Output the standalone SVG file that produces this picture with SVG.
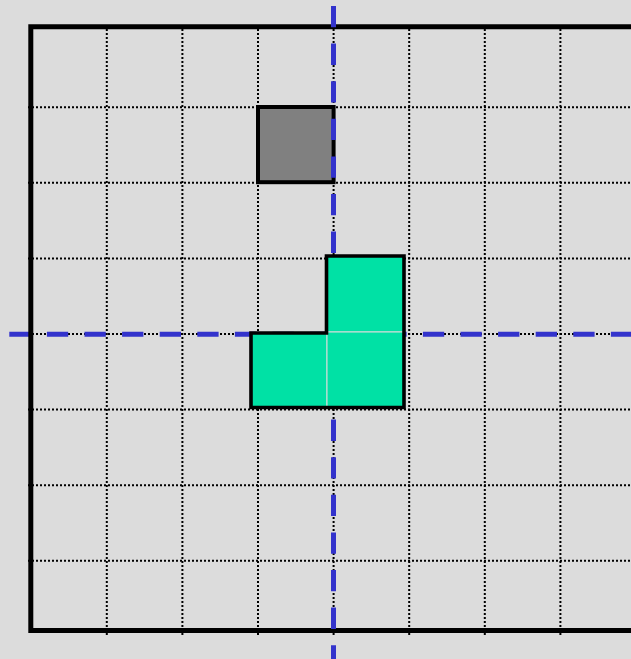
<svg xmlns="http://www.w3.org/2000/svg" width="631" height="659" viewBox="0 0 631 659">
  <style>
    .grid line { stroke: #000; stroke-width: 2; stroke-dasharray: 2 2; }
    .axis { stroke: #3333cc; stroke-width: 5; stroke-dasharray: 21.3 16.3; fill: none; }
    .tile { fill: #00e1a5; stroke: #dcdcdc; stroke-width: 1; }
  </style>
  <rect x="0" y="0" width="631" height="659" fill="#dcdcdc"/>
  <g id="grid" class="grid">
    <line x1="28" y1="107.2" x2="631" y2="107.2"/>
    <line x1="28" y1="182.8" x2="631" y2="182.8"/>
    <line x1="28" y1="258.4" x2="631" y2="258.4"/>
    <line x1="28" y1="334" x2="631" y2="334"/>
    <line x1="28" y1="409.6" x2="631" y2="409.6"/>
    <line x1="28" y1="485.2" x2="631" y2="485.2"/>
    <line x1="28" y1="560.8" x2="631" y2="560.8"/>
    <line x1="106.8" y1="29" x2="106.8" y2="637"/>
    <line x1="182.4" y1="29" x2="182.4" y2="637"/>
    <line x1="258" y1="29" x2="258" y2="637"/>
    <line x1="333.6" y1="29" x2="333.6" y2="637"/>
    <line x1="409.2" y1="29" x2="409.2" y2="637"/>
    <line x1="484.8" y1="29" x2="484.8" y2="637"/>
    <line x1="560.4" y1="29" x2="560.4" y2="637"/>
  </g>
  <g id="connectors">
    <line id="axis-x" class="axis" x1="9.3" y1="334.2" x2="631" y2="334.2"/>
  </g>
  <g id="border">
    <path d="M 633 26.7 L 30.8 26.7 L 30.8 630.5 L 633 630.5" fill="none" stroke="#000" stroke-width="5" stroke-linejoin="miter"/>
  </g>
  <g id="gray-square">
    <rect x="258" y="107" width="75.6" height="75.2" fill="#808080" stroke="#000" stroke-width="4"/>
  </g>
  <g id="axis-y-group">
    <line id="axis-y" class="axis" x1="333.5" y1="6" x2="333.5" y2="659"/>
  </g>
  <g id="green-piece">
    <rect class="tile" x="327" y="256" width="77" height="76"/>
    <rect class="tile" x="251" y="333" width="76" height="75"/>
    <rect class="tile" x="327" y="332" width="77" height="76"/>
    <polygon points="326.5,256 404,256 404,407.5 251,407.5 251,333 326.5,333" fill="none" stroke="#000" stroke-width="3.6"/>
  </g>
</svg>
